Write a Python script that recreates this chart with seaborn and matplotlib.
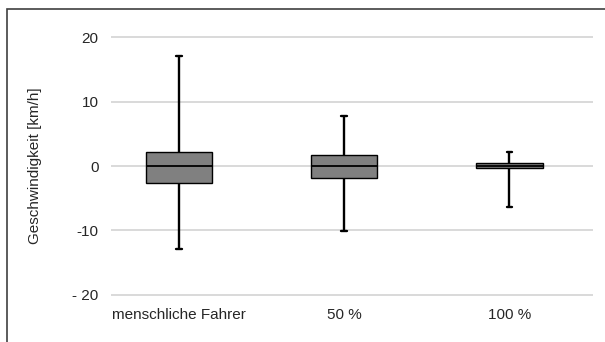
import numpy as np
import pandas as pd
import seaborn as sns
import matplotlib.pyplot as plt
from matplotlib.patches import Rectangle

# Kategorien und Fünf-Punkte-Zusammenfassung (Min, Q1, Median, Q3, Max)
gruppen = ['menschliche Fahrer', '50 %', '100 %']
minimum = [-12.8, -10.1, -6.3]
q1 = [-2.6, -1.9, -0.35]
median = [0.05, 0.0, 0.0]
q3 = [2.1, 1.75, 0.4]
maximum = [17.1, 7.7, 2.2]

y_ticks = [-20, -10, 0, 10, 20]
y_ticklabels = ['- 20', '-10', '0', '10', '20']

# Fünf Werte pro Gruppe -> Quartile fallen exakt auf die Werte
rows = []
for i, g in enumerate(gruppen):
    for v in (minimum[i], q1[i], median[i], q3[i], maximum[i]):
        rows.append({'Gruppe': g, 'Wert': v})
df = pd.DataFrame(rows)

sns.set_style('white')
plt.rcParams['font.family'] = ['Liberation Sans', 'DejaVu Sans']

W, H = 605, 342
fig = plt.figure(figsize=(W / 100, H / 100), dpi=100)

# Achsenbereich in Pixeln
left, right = 111, 593
top, bottom = 33.8, 298.2
ax = fig.add_axes([left / W, 1 - bottom / H, (right - left) / W, (bottom - top) / H])

sns.boxplot(data=df, x='Gruppe', y='Wert', order=gruppen, ax=ax,
            width=0.4, whis=(0, 100), color='#808080', saturation=1,
            linecolor='black', linewidth=1.0, showfliers=False,
            whiskerprops={'linewidth': 1.7}, capprops={'linewidth': 1.7},
            medianprops={'linewidth': 1.3}, zorder=3)

# Kappen schmal machen
for ln in ax.lines:
    xd = np.asarray(ln.get_xdata(), dtype=float)
    yd = np.asarray(ln.get_ydata(), dtype=float)
    if len(xd) == 2 and yd[0] == yd[1]:
        c = xd.mean()
        if any(np.isclose(yd[0], v) for v in minimum + maximum):
            ln.set_xdata([c - 0.018, c + 0.018])

txt = '#262626'
ax.set_xlim(-0.41, 2.505)
ax.set_ylim(-20.5, 20.5)
ax.set_yticks(y_ticks)
ax.set_yticklabels(y_ticklabels)
ax.yaxis.grid(True, color='#d0d0d0', linewidth=1.1)
ax.set_axisbelow(True)
for s in ax.spines.values():
    s.set_visible(False)
ax.tick_params(axis='both', length=0, labelsize=11, colors=txt)
ax.tick_params(axis='y', pad=9)
ax.tick_params(axis='x', pad=7)
ax.set_xlabel('')
ax.set_ylabel('Geschwindigkeit [km/h]', fontsize=11, labelpad=22, color=txt)

# Rahmen um das Diagramm
fig.patches.append(Rectangle((7 / W, -0.1), 1.2, 1 - 9 / H + 0.1,
                             transform=fig.transFigure, fill=False,
                             edgecolor='#404040', linewidth=1.2))

fig.savefig('out.png', dpi=100)
